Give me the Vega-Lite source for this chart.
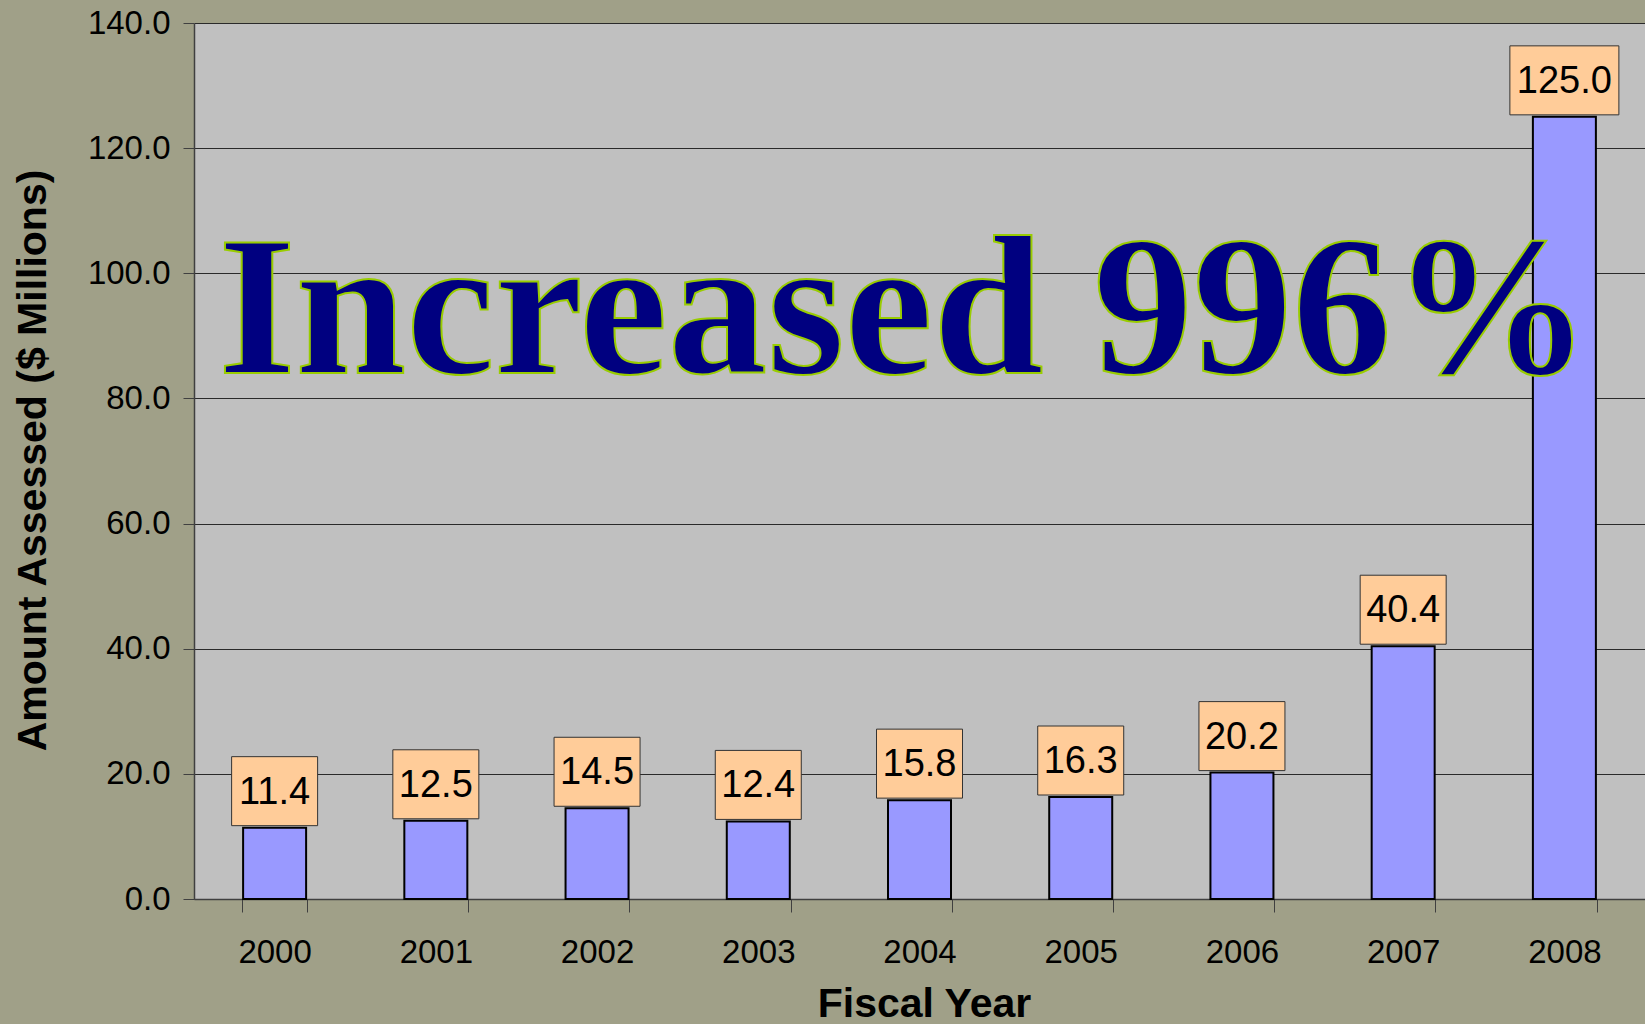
{
  "$schema": "https://vega.github.io/schema/vega-lite/v6.json",
  "width": 1451,
  "height": 876,
  "autosize": {"type": "none"},
  "padding": {"left": 194, "top": 23, "right": 0, "bottom": 125},
  "background": "#A0A088",
  "config": {
    "font": "Liberation Sans",
    "view": {"fill": "#C0C0C0", "stroke": null}
  },
  "data": {
    "values": [
      {"year": "2000", "amount": 11.4},
      {"year": "2001", "amount": 12.5},
      {"year": "2002", "amount": 14.5},
      {"year": "2003", "amount": 12.4},
      {"year": "2004", "amount": 15.8},
      {"year": "2005", "amount": 16.3},
      {"year": "2006", "amount": 20.2},
      {"year": "2007", "amount": 40.4},
      {"year": "2008", "amount": 125.0}
    ]
  },
  "layer": [
    {
      "mark": {"type": "bar", "fill": "#9999FF", "stroke": "#000000", "strokeWidth": 2, "width": 63},
      "encoding": {
        "x": {
          "field": "year",
          "type": "ordinal",
          "scale": {"paddingInner": 0.6, "paddingOuter": 0.3},
          "axis": {
            "title": "Fiscal Year",
            "titleFontSize": 41,
            "titleFontWeight": "bold",
            "titleColor": "#000000",
            "titleX": 730,
            "titleY": 117,
            "titleBaseline": "alphabetic",
            "titleAlign": "center",
            "labelAngle": 0,
            "labelFontSize": 33,
            "labelColor": "#000000",
            "labelPadding": 50,
            "labelBaseline": "alphabetic",
            "tickBand": "extent",
            "tickSize": 13,
            "tickColor": "#404040",
            "domainColor": "#404040",
            "domainWidth": 1.5,
            "grid": false
          }
        },
        "y": {
          "field": "amount",
          "type": "quantitative",
          "scale": {"domain": [0, 140], "nice": false},
          "axis": {
            "title": "Amount Assessed ($ Millions)",
            "titleFontSize": 41,
            "titleFontWeight": "bold",
            "titleColor": "#000000",
            "titleAngle": 270,
            "titleX": -149,
            "titleY": 437,
            "titleBaseline": "alphabetic",
            "titleAlign": "center",
            "format": ".1f",
            "values": [0, 20, 40, 60, 80, 100, 120, 140],
            "labelFontSize": 33,
            "labelColor": "#000000",
            "labelPadding": 13,
            "tickSize": 11,
            "tickColor": "#404040",
            "domainColor": "#404040",
            "domainWidth": 1.5,
            "grid": true,
            "gridColor": "#2A2A2A",
            "gridWidth": 1,
            "gridOpacity": 1
          }
        }
      }
    },
    {
      "mark": {
        "type": "bar",
        "fill": "#FFCC99",
        "stroke": "#333333",
        "strokeWidth": 1,
        "width": {"expr": "datum.amount >= 100 ? 109 : 86"},
        "yOffset": -2,
        "y2Offset": -71
      },
      "encoding": {
        "x": {"field": "year", "type": "ordinal"},
        "y": {"field": "amount", "type": "quantitative"},
        "y2": {"field": "amount"}
      }
    },
    {
      "mark": {"type": "text", "fontSize": 38, "dy": -24, "baseline": "alphabetic", "align": "center", "color": "#000000"},
      "encoding": {
        "x": {"field": "year", "type": "ordinal"},
        "y": {"field": "amount", "type": "quantitative"},
        "text": {"field": "amount", "type": "quantitative", "format": ".1f"}
      }
    },
    {
      "data": {"values": [{"year": "2004", "note": "Increased 996%"}]},
      "mark": {
        "type": "text",
        "font": "Liberation Serif",
        "fontWeight": "bold",
        "fontSize": 199,
        "fill": "#000080",
        "stroke": "#99CC00",
        "strokeWidth": 2,
        "dx": -15,
        "baseline": "alphabetic",
        "align": "center"
      },
      "encoding": {
        "x": {"field": "year", "type": "ordinal"},
        "y": {"datum": 84},
        "text": {"field": "note"}
      }
    }
  ]
}
